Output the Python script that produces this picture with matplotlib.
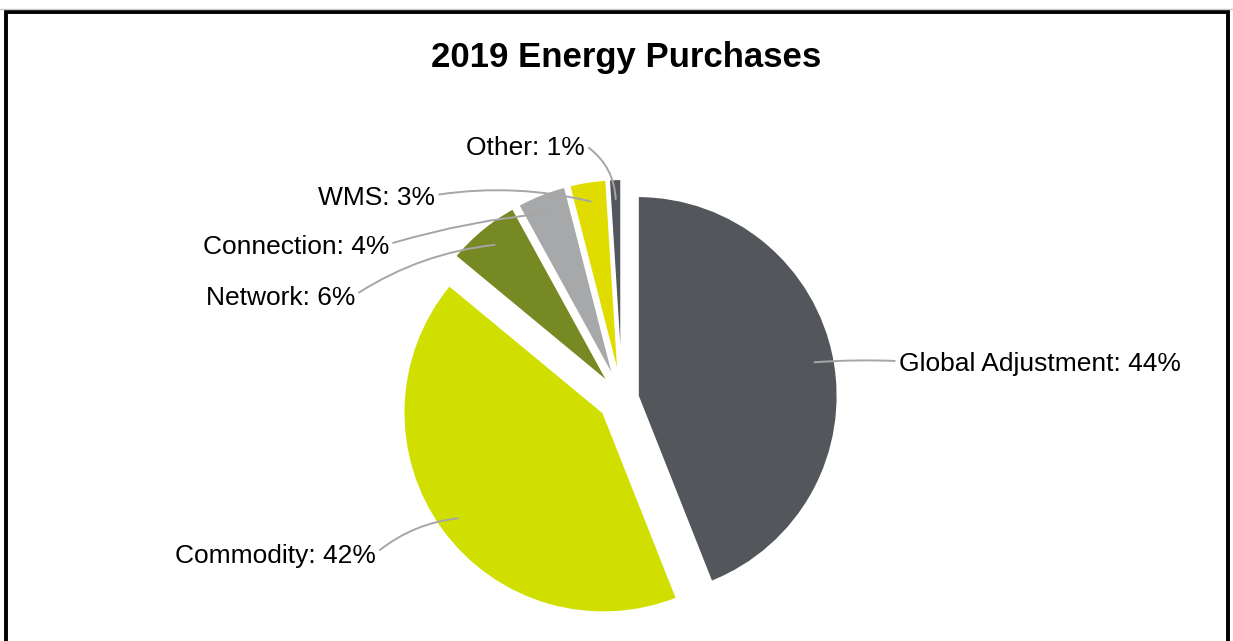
import numpy as np
import matplotlib
matplotlib.use("Agg")
import matplotlib.pyplot as plt
from matplotlib.patches import Rectangle

# 2019 energy purchase breakdown (percent of total)
categories = ["Global Adjustment", "Commodity", "Network", "Connection", "WMS", "Other"]
shares = [44, 42, 6, 4, 3, 1]

colors = ["#53565A", "#D0DF00", "#768922", "#A7A8AA", "#E0DC00", "#53565A"]
explode = [0.08, 0.115, 0.1, 0.1, 0.1, 0.1]

# label anchor (data units, pie radius = 1) and alignment
label_xy = [(1.385, 0.175), (-1.23, -0.785), (-1.335, 0.505),
            (-1.165, 0.76), (-0.935, 1.005), (-0.185, 1.255)]
label_ha = ["left", "right", "right", "right", "right", "right"]
leader_rad = [0.03, -0.15, -0.12, -0.05, -0.1, -0.25]

W, H, DPI = 1233, 641, 100
cx, cy, R = 622, 399, 200  # pie centre / radius in pixels

plt.rcParams["font.family"] = ["Liberation Sans", "DejaVu Sans"]

fig = plt.figure(figsize=(W / DPI, H / DPI), dpi=DPI)
ax = fig.add_axes([0, 0, 1, 1])

wedges, _ = ax.pie(shares, colors=colors, explode=explode, startangle=90,
                   counterclock=False, radius=1,
                   wedgeprops=dict(edgecolor="white", linewidth=1.6))
ax.set_xlim(-cx / R, (W - cx) / R)
ax.set_ylim(-(H - cy) / R, cy / R)
ax.set_aspect("equal")
ax.axis("off")

for w, name, val, xy, ha, rad in zip(wedges, categories, shares, label_xy,
                                     label_ha, leader_rad):
    mid = np.deg2rad((w.theta1 + w.theta2) / 2)
    wx, wy = w.center
    target = (wx + 0.9 * np.cos(mid), wy + 0.9 * np.sin(mid))
    ax.annotate(f"{name}: {val}%", xy=target, xytext=xy, ha=ha, va="center",
                fontsize=19, color="black",
                arrowprops=dict(arrowstyle="-", color="#A6A6A6", lw=1.4,
                                shrinkA=1, shrinkB=0,
                                relpos=(0 if ha == "left" else 1, 0.62),
                                connectionstyle=f"arc3,rad={rad}"))

fig.text(626 / W, 1 - 58 / H, "2019 Energy Purchases", ha="center", va="center",
         fontsize=25, fontweight="bold")

# outer frame, open at the bottom
fig.add_artist(Rectangle((5.5 / W, -0.05), (1228 - 5.5) / W, 1.05 - 11.5 / H,
                         transform=fig.transFigure, fill=False,
                         edgecolor="black", linewidth=2.8))
fig.add_artist(plt.Line2D([0, 1], [1 - 8.5 / H] * 2, transform=fig.transFigure,
                          color="#C8C8C8", linewidth=1))

fig.savefig("out.png", dpi=DPI, facecolor="white")
